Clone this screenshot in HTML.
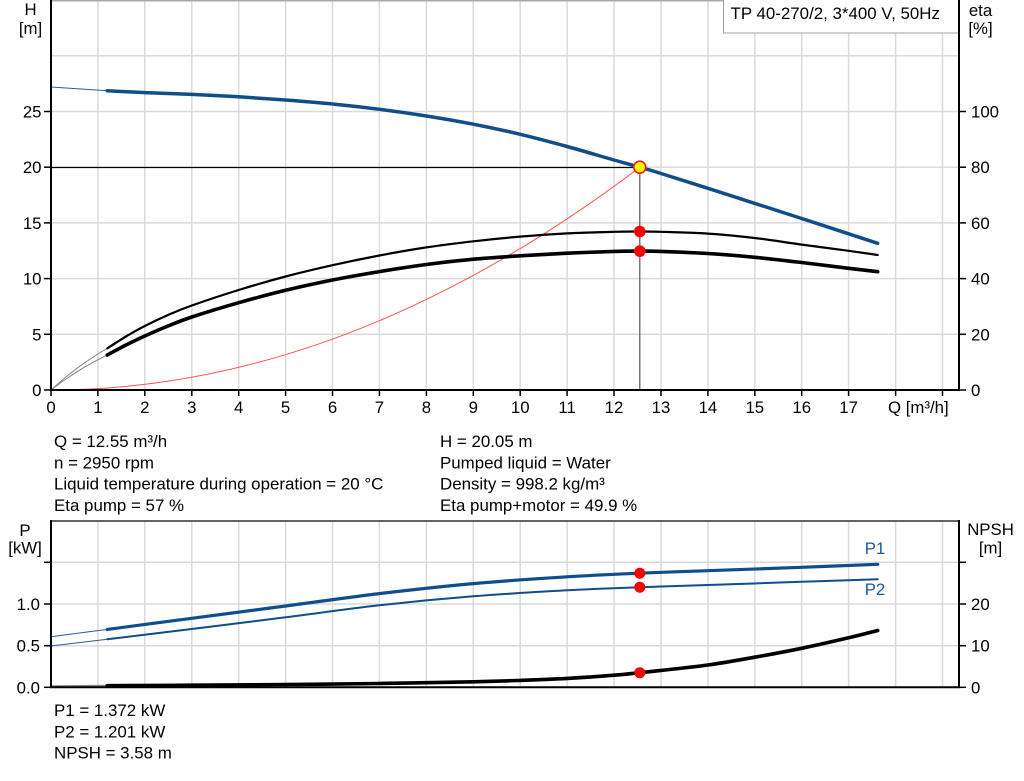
<!DOCTYPE html>
<html>
<head>
<meta charset="utf-8">
<style>
  html, body { margin:0; padding:0; background:#fff; }
  svg { display:block; }
  text { font-family: "Liberation Sans", Arial, sans-serif; fill:#000; }
</style>
</head>
<body>
<svg id="chart" width="1024" height="781" viewBox="0 0 1024 781" xmlns="http://www.w3.org/2000/svg">
  <rect x="0" y="0" width="1024" height="781" fill="#fff"/>

  <!-- ================= TOP CHART ================= -->
  <g stroke="#dadada" stroke-width="1.5" fill="none">
    <line x1="97.9" y1="0" x2="97.9" y2="390"/>
    <line x1="144.8" y1="0" x2="144.8" y2="390"/>
    <line x1="191.8" y1="0" x2="191.8" y2="390"/>
    <line x1="238.7" y1="0" x2="238.7" y2="390"/>
    <line x1="285.6" y1="0" x2="285.6" y2="390"/>
    <line x1="332.5" y1="0" x2="332.5" y2="390"/>
    <line x1="379.4" y1="0" x2="379.4" y2="390"/>
    <line x1="426.4" y1="0" x2="426.4" y2="390"/>
    <line x1="473.3" y1="0" x2="473.3" y2="390"/>
    <line x1="520.2" y1="0" x2="520.2" y2="390"/>
    <line x1="567.1" y1="0" x2="567.1" y2="390"/>
    <line x1="614.0" y1="0" x2="614.0" y2="390"/>
    <line x1="661.0" y1="0" x2="661.0" y2="390"/>
    <line x1="707.9" y1="0" x2="707.9" y2="390"/>
    <line x1="754.8" y1="0" x2="754.8" y2="390"/>
    <line x1="801.7" y1="0" x2="801.7" y2="390"/>
    <line x1="848.6" y1="0" x2="848.6" y2="390"/>
    <line x1="895.6" y1="0" x2="895.6" y2="390"/>
    <line x1="942.5" y1="0" x2="942.5" y2="390"/>
    <line x1="51" y1="334.3" x2="959" y2="334.3"/>
    <line x1="51" y1="278.6" x2="959" y2="278.6"/>
    <line x1="51" y1="222.9" x2="959" y2="222.9"/>
    <line x1="51" y1="167.2" x2="959" y2="167.2"/>
    <line x1="51" y1="111.5" x2="959" y2="111.5"/>
    <line x1="51" y1="55.8" x2="959" y2="55.8"/>
  </g>
  <line x1="51" y1="0.75" x2="959" y2="0.75" stroke="#a8a8a8" stroke-width="1.5"/>

  <!-- legend box -->
  <rect x="723.5" y="-1" width="235" height="34" fill="#fff" stroke="#a0a0a0" stroke-width="1"/>
  <text x="730.5" y="19" font-size="16.9">TP 40-270/2, 3*400 V, 50Hz</text>

  <!-- system curve (red) -->
  <path d="M51,390 Q345.5,390 639.8,167.2" fill="none" stroke="#ff5050" stroke-width="1"/>

  <!-- operating point guide lines -->
  <line x1="51" y1="167.5" x2="639.8" y2="167.5" stroke="#000" stroke-width="1.2"/>
  <line x1="639.8" y1="167.2" x2="639.8" y2="390" stroke="#555" stroke-width="1.2"/>

  <!-- thin initial segments -->
  <line x1="51" y1="87" x2="107.3" y2="90.8" stroke="#2a5f95" stroke-width="1"/>
  <path d="M51,390 Q78,365 107.3,348.3" fill="none" stroke="#888" stroke-width="1"/>
  <path d="M51,390 Q78,369 107.3,355" fill="none" stroke="#888" stroke-width="1"/>

  <!-- H curve -->
  <polyline class="smooth" fill="none" stroke="#0f4e8b" stroke-width="3.5" stroke-linejoin="round" stroke-linecap="round"
    points="107.3,90.8 144.8,92.6 191.8,94.4 238.7,96.8 285.6,100 332.5,104 379.4,109.3 426.4,116 473.3,124.2 520.2,134.3 567.1,146.5 614,160 639.8,167.2 661,173.5 707.9,188.3 754.8,203.4 801.7,218.5 848.6,233.8 877.7,243.3"/>

  <!-- eta pump curve -->
  <polyline class="smooth" fill="none" stroke="#000" stroke-width="2.2" stroke-linejoin="round" stroke-linecap="round"
    points="107.3,348.3 126,336.5 144.8,326 168,315 191.8,305.5 238.7,290 285.6,276.5 332.5,265.2 379.4,255.5 426.4,247.4 473.3,241.3 520.2,236.6 567.1,233.4 614,231.8 639.8,231.5 661,231.8 707.9,233.6 754.8,238 801.7,244.6 848.6,250.8 877.7,255"/>

  <!-- eta pump+motor curve -->
  <polyline class="smooth" fill="none" stroke="#000" stroke-width="3.6" stroke-linejoin="round" stroke-linecap="round"
    points="107.3,355 126,345 144.8,336 168,326 191.8,317 238.7,302.7 285.6,290.3 332.5,280 379.4,271.6 426.4,264.5 473.3,259.2 520.2,255.8 567.1,253.2 614,251.4 639.8,251.1 661,251.4 707.9,253.5 754.8,257.3 801.7,262.5 848.6,268.3 877.7,271.7"/>

  <!-- markers -->
  <circle cx="639.8" cy="231.5" r="5.8" fill="#ff0000"/>
  <circle cx="639.8" cy="251.1" r="5.8" fill="#ff0000"/>
  <circle cx="639.8" cy="167.2" r="6" fill="#ffff00" stroke="#ff1a1a" stroke-width="1.6"/>

  <!-- axes -->
  <line x1="51" y1="0" x2="51" y2="391" stroke="#000" stroke-width="2"/>
  <line x1="50" y1="390" x2="960" y2="390" stroke="#000" stroke-width="2"/>
  <line x1="959" y1="0" x2="959" y2="391" stroke="#000" stroke-width="2"/>

  <g stroke="#000" stroke-width="1.5">
    <line x1="44" y1="390" x2="51" y2="390"/>
    <line x1="44" y1="334.3" x2="51" y2="334.3"/>
    <line x1="44" y1="278.6" x2="51" y2="278.6"/>
    <line x1="44" y1="222.9" x2="51" y2="222.9"/>
    <line x1="44" y1="167.2" x2="51" y2="167.2"/>
    <line x1="44" y1="111.5" x2="51" y2="111.5"/>
    <line x1="959" y1="390" x2="966" y2="390"/>
    <line x1="959" y1="334.3" x2="966" y2="334.3"/>
    <line x1="959" y1="278.6" x2="966" y2="278.6"/>
    <line x1="959" y1="222.9" x2="966" y2="222.9"/>
    <line x1="959" y1="167.2" x2="966" y2="167.2"/>
    <line x1="959" y1="111.5" x2="966" y2="111.5"/>
    <line x1="51" y1="390" x2="51" y2="396"/>
    <line x1="97.9" y1="390" x2="97.9" y2="396"/>
    <line x1="144.8" y1="390" x2="144.8" y2="396"/>
    <line x1="191.8" y1="390" x2="191.8" y2="396"/>
    <line x1="238.7" y1="390" x2="238.7" y2="396"/>
    <line x1="285.6" y1="390" x2="285.6" y2="396"/>
    <line x1="332.5" y1="390" x2="332.5" y2="396"/>
    <line x1="379.4" y1="390" x2="379.4" y2="396"/>
    <line x1="426.4" y1="390" x2="426.4" y2="396"/>
    <line x1="473.3" y1="390" x2="473.3" y2="396"/>
    <line x1="520.2" y1="390" x2="520.2" y2="396"/>
    <line x1="567.1" y1="390" x2="567.1" y2="396"/>
    <line x1="614.0" y1="390" x2="614.0" y2="396"/>
    <line x1="661.0" y1="390" x2="661.0" y2="396"/>
    <line x1="707.9" y1="390" x2="707.9" y2="396"/>
    <line x1="754.8" y1="390" x2="754.8" y2="396"/>
    <line x1="801.7" y1="390" x2="801.7" y2="396"/>
    <line x1="848.6" y1="390" x2="848.6" y2="396"/>
    <line x1="895.6" y1="390" x2="895.6" y2="396"/>
    <line x1="942.5" y1="390" x2="942.5" y2="396"/>
  </g>

  <text x="30.5" y="15" font-size="16.8" text-anchor="middle">H</text>
  <text x="30.5" y="34" font-size="16.8" text-anchor="middle">[m]</text>
  <text x="980.5" y="16" font-size="16.8" text-anchor="middle">eta</text>
  <text x="980.5" y="34" font-size="16.8" text-anchor="middle">[%]</text>

  <g font-size="16.8" text-anchor="end">
    <text x="41.5" y="396">0</text>
    <text x="41.5" y="340.3">5</text>
    <text x="41.5" y="284.6">10</text>
    <text x="41.5" y="228.9">15</text>
    <text x="41.5" y="173.2">20</text>
    <text x="41.5" y="117.5">25</text>
  </g>
  <g font-size="16.8">
    <text x="971" y="396">0</text>
    <text x="971" y="340.3">20</text>
    <text x="971" y="284.6">40</text>
    <text x="971" y="228.9">60</text>
    <text x="971" y="173.2">80</text>
    <text x="971" y="117.5">100</text>
  </g>
  <g font-size="16.8" text-anchor="middle">
    <text x="51" y="413">0</text>
    <text x="97.9" y="413">1</text>
    <text x="144.8" y="413">2</text>
    <text x="191.8" y="413">3</text>
    <text x="238.7" y="413">4</text>
    <text x="285.6" y="413">5</text>
    <text x="332.5" y="413">6</text>
    <text x="379.4" y="413">7</text>
    <text x="426.4" y="413">8</text>
    <text x="473.3" y="413">9</text>
    <text x="520.2" y="413">10</text>
    <text x="567.1" y="413">11</text>
    <text x="614.0" y="413">12</text>
    <text x="661.0" y="413">13</text>
    <text x="707.9" y="413">14</text>
    <text x="754.8" y="413">15</text>
    <text x="801.7" y="413">16</text>
    <text x="848.6" y="413">17</text>
  </g>
  <text x="888" y="413" font-size="16.8">Q [m³/h]</text>

  <g font-size="16.9">
    <text x="54" y="447">Q = 12.55 m³/h</text>
    <text x="54" y="468.3">n = 2950 rpm</text>
    <text x="54" y="489.7">Liquid temperature during operation = 20 °C</text>
    <text x="54" y="511">Eta pump = 57 %</text>
    <text x="440" y="447">H = 20.05 m</text>
    <text x="440" y="468.3">Pumped liquid = Water</text>
    <text x="440" y="489.7">Density = 998.2 kg/m³</text>
    <text x="440" y="511">Eta pump+motor = 49.9 %</text>
  </g>

  <!-- ================= BOTTOM CHART ================= -->
  <g stroke="#dadada" stroke-width="1.5" fill="none">
    <line x1="97.9" y1="521" x2="97.9" y2="687"/>
    <line x1="144.8" y1="521" x2="144.8" y2="687"/>
    <line x1="191.8" y1="521" x2="191.8" y2="687"/>
    <line x1="238.7" y1="521" x2="238.7" y2="687"/>
    <line x1="285.6" y1="521" x2="285.6" y2="687"/>
    <line x1="332.5" y1="521" x2="332.5" y2="687"/>
    <line x1="379.4" y1="521" x2="379.4" y2="687"/>
    <line x1="426.4" y1="521" x2="426.4" y2="687"/>
    <line x1="473.3" y1="521" x2="473.3" y2="687"/>
    <line x1="520.2" y1="521" x2="520.2" y2="687"/>
    <line x1="567.1" y1="521" x2="567.1" y2="687"/>
    <line x1="614.0" y1="521" x2="614.0" y2="687"/>
    <line x1="661.0" y1="521" x2="661.0" y2="687"/>
    <line x1="707.9" y1="521" x2="707.9" y2="687"/>
    <line x1="754.8" y1="521" x2="754.8" y2="687"/>
    <line x1="801.7" y1="521" x2="801.7" y2="687"/>
    <line x1="848.6" y1="521" x2="848.6" y2="687"/>
    <line x1="895.6" y1="521" x2="895.6" y2="687"/>
    <line x1="942.5" y1="521" x2="942.5" y2="687"/>
    <line x1="51" y1="562.3" x2="959" y2="562.3"/>
    <line x1="51" y1="604" x2="959" y2="604"/>
    <line x1="51" y1="645.7" x2="959" y2="645.7"/>
  </g>
  <line x1="51" y1="521" x2="959" y2="521" stroke="#333" stroke-width="1.5"/>

  <line x1="51" y1="636.7" x2="107.3" y2="629.4" stroke="#2a5f95" stroke-width="1"/>
  <line x1="51" y1="646" x2="107.3" y2="639.3" stroke="#2a5f95" stroke-width="1"/>
  <line x1="51" y1="686.3" x2="107.3" y2="685.8" stroke="#888" stroke-width="2"/>

  <!-- P1 -->
  <polyline class="smooth" fill="none" stroke="#0f4e8b" stroke-width="3.2" stroke-linejoin="round" stroke-linecap="round"
    points="107.3,629.4 191.8,618.3 285.6,606 379.4,593.6 473.3,583.6 567.1,576.8 639.8,573.2 707.9,570.7 801.7,567.3 877.7,564.3"/>
  <!-- P2 -->
  <polyline class="smooth" fill="none" stroke="#0f4e8b" stroke-width="2" stroke-linejoin="round" stroke-linecap="round"
    points="107.3,639.3 191.8,629 285.6,617.3 379.4,605.3 473.3,596.3 567.1,590.3 639.8,587.2 707.9,585 801.7,581.8 877.7,579.3"/>
  <!-- NPSH -->
  <polyline class="smooth" fill="none" stroke="#000" stroke-width="3.6" stroke-linejoin="round" stroke-linecap="round"
    points="107.3,685.7 191.8,685.2 285.6,684.5 379.4,683.5 473.3,681.8 520.2,680.4 567.1,678.4 614,675.2 639.8,672.7 661,670.4 707.9,665 754.8,657.2 801.7,648.3 848.6,637.8 877.7,630.5"/>

  <circle cx="639.8" cy="573.2" r="5.5" fill="#ff0000"/>
  <circle cx="639.8" cy="587.2" r="5.5" fill="#ff0000"/>
  <circle cx="639.8" cy="672.7" r="5.5" fill="#ff0000"/>

  <text x="875" y="554" font-size="16.8" text-anchor="middle" style="fill:#1c5a96">P1</text>
  <text x="875" y="595" font-size="16.8" text-anchor="middle" style="fill:#1c5a96">P2</text>

  <line x1="51" y1="520" x2="51" y2="688" stroke="#000" stroke-width="2"/>
  <line x1="50" y1="687.3" x2="960" y2="687.3" stroke="#000" stroke-width="2"/>
  <line x1="959" y1="520" x2="959" y2="688" stroke="#000" stroke-width="2"/>
  <g stroke="#000" stroke-width="1.5">
    <line x1="44" y1="687.3" x2="51" y2="687.3"/>
    <line x1="44" y1="645.7" x2="51" y2="645.7"/>
    <line x1="44" y1="604" x2="51" y2="604"/>
    <line x1="44" y1="562.3" x2="51" y2="562.3"/>
    <line x1="959" y1="687.3" x2="966" y2="687.3"/>
    <line x1="959" y1="645.7" x2="966" y2="645.7"/>
    <line x1="959" y1="604" x2="966" y2="604"/>
    <line x1="959" y1="562.3" x2="966" y2="562.3"/>
  </g>

  <text x="25" y="536" font-size="16.8" text-anchor="middle">P</text>
  <text x="25" y="553.5" font-size="16.8" text-anchor="middle">[kW]</text>
  <text x="990.5" y="535" font-size="16.8" text-anchor="middle">NPSH</text>
  <text x="990.5" y="553.5" font-size="16.8" text-anchor="middle">[m]</text>

  <g font-size="16.8" text-anchor="end">
    <text x="40" y="693.3">0.0</text>
    <text x="40" y="651.7">0.5</text>
    <text x="40" y="610">1.0</text>
  </g>
  <g font-size="16.8">
    <text x="971" y="693.3">0</text>
    <text x="971" y="651.7">10</text>
    <text x="971" y="610">20</text>
  </g>

  <g font-size="16.9">
    <text x="54" y="716">P1 = 1.372 kW</text>
    <text x="54" y="737.3">P2 = 1.201 kW</text>
    <text x="54" y="758.6">NPSH = 3.58 m</text>
  </g>
</svg>
<script>
(function(){
  var svg = document.getElementById('chart');
  var NS = 'http://www.w3.org/2000/svg';
  var lines = svg.querySelectorAll('polyline.smooth');
  for (var i = 0; i < lines.length; i++) {
    var pl = lines[i];
    var raw = pl.getAttribute('points').trim().split(/\s+/);
    var p = raw.map(function(s){ var a = s.split(','); return [parseFloat(a[0]), parseFloat(a[1])]; });
    var d = 'M' + p[0][0] + ',' + p[0][1];
    for (var k = 0; k < p.length - 1; k++) {
      var p0 = p[k > 0 ? k - 1 : k], p1 = p[k], p2 = p[k + 1], p3 = p[k + 2 < p.length ? k + 2 : k + 1];
      var c1x = p1[0] + (p2[0] - p0[0]) / 6, c1y = p1[1] + (p2[1] - p0[1]) / 6;
      var c2x = p2[0] - (p3[0] - p1[0]) / 6, c2y = p2[1] - (p3[1] - p1[1]) / 6;
      d += ' C' + c1x.toFixed(2) + ',' + c1y.toFixed(2) + ' ' + c2x.toFixed(2) + ',' + c2y.toFixed(2) + ' ' + p2[0] + ',' + p2[1];
    }
    var path = document.createElementNS(NS, 'path');
    path.setAttribute('d', d);
    ['fill','stroke','stroke-width','stroke-linejoin','stroke-linecap'].forEach(function(a){
      if (pl.getAttribute(a) !== null) path.setAttribute(a, pl.getAttribute(a));
    });
    pl.parentNode.replaceChild(path, pl);
  }
})();
</script>
</body>
</html>
